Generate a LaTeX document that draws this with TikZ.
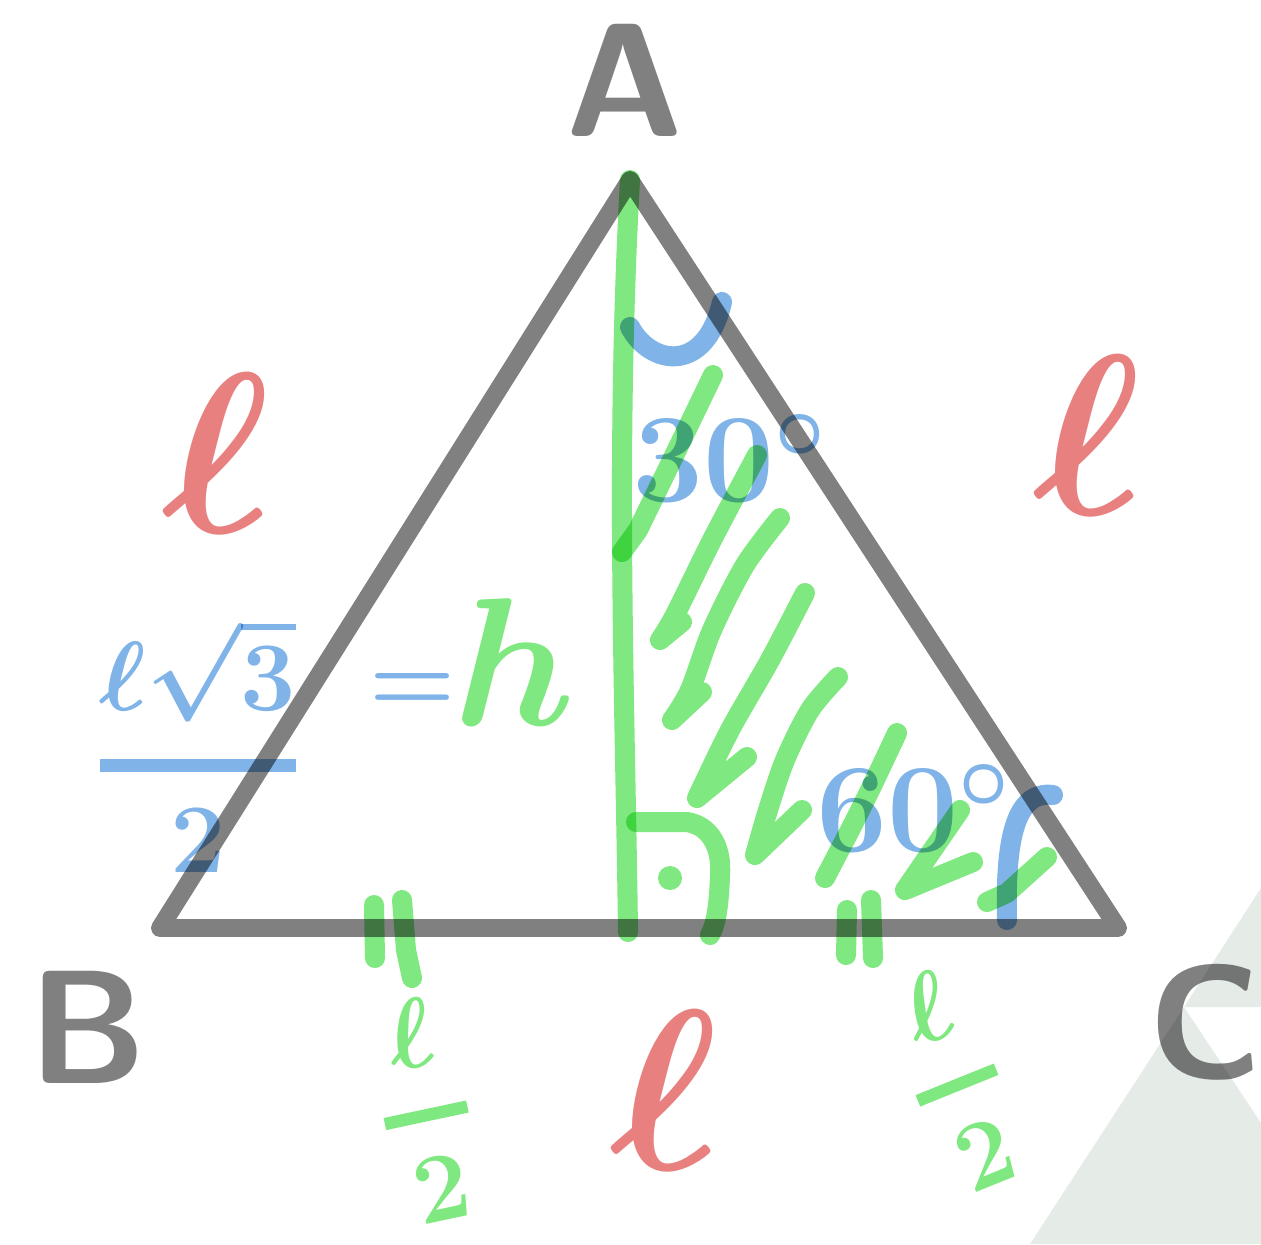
\documentclass[tikz,border=0pt]{standalone}
\usepackage{fix-cm}
\usepackage{amsmath}
\usepackage{xcolor}
\usepackage{tikz}
\definecolor{penGray}{RGB}{128,128,128}
\definecolor{penRed}{RGB}{232,128,128}
\definecolor{penGreen}{RGB}{128,232,128}
\definecolor{penBlue}{RGB}{128,180,232}
\definecolor{logoGray}{RGB}{229,235,231}
\tikzset{
  pen/.style={line width=5.7pt, line cap=round, line join=round},
  graypen/.style={pen, line width=5.1pt, draw=penGray},
  greenpen/.style={pen, draw=penGreen},
  bluepen/.style={pen, draw=penBlue},
  lbl/.style={inner sep=0pt, outer sep=0pt},
  vertexlbl/.style={lbl, text=penGray, font=\fontsize{46}{46}\selectfont\sffamily\bfseries},
  sidelbl/.style={lbl, text=penRed, font=\fontsize{65}{65}\selectfont\boldmath},
  halflbl/.style={lbl, text=penGreen, font=\fontsize{28}{28}\selectfont\boldmath},
  anglelbl/.style={lbl, text=penBlue, font=\fontsize{36}{36}\selectfont\boldmath}
}
\newcommand{\penfrac}[2]{\genfrac{}{}{3.5pt}{0}{#1}{#2}}
\begin{document}
\begin{tikzpicture}[x=0.01cm, y=-0.01cm]
\useasboundingbox (0,0) rectangle (1261,1244);
\fill[logoGray] (1030,1244) -- (1184,1007) -- (1261,1123) -- (1261,1244) -- cycle;
\fill[logoGray] (1184,1007) -- (1261,888) -- (1261,1007) -- cycle;
\begin{scope}[blend mode=multiply]
\coordinate (A) at (630,180);
\coordinate (B) at (160,928);
\coordinate (C) at (1118,928);
\coordinate (H) at (628,932);
\draw[graypen] (A) -- (C) -- (B) -- cycle;
\node[vertexlbl] (nA) at (625,80) {A};
\node[vertexlbl] (nB) at (88,1027) {B};
\node[vertexlbl] (nC) at (1205,1022) {C};
\node[sidelbl] (sAB) at (217,453) {$\ell$};
\node[sidelbl] (sAC) at (1088,435) {$\ell$};
\node[sidelbl] (sBC) at (665,1090) {$\ell$};
\draw[greenpen] (A) .. controls (615,450) and (625,700) .. (H);
\draw[greenpen] (636,822) -- (687,822) .. controls (712,826) and (722,850) .. (720,875) .. controls (719,905) and (716,925) .. (710,935);
\fill[penGreen] (670,878) circle[radius=12];
\draw[greenpen] (374,905) -- (375,958);
\draw[greenpen] (402,900) -- (406,950) -- (412,978);
\draw[greenpen] (847,910) -- (846,955);
\draw[greenpen] (871,900) -- (873,958);
\draw[greenpen] (713,375) -- (672,460) -- (638,530) -- (622,552);
\draw[greenpen] plot[smooth] coordinates {(757,455) (712,540) (675,615) (660,640)} -- (682,622);
\draw[greenpen] plot[smooth] coordinates {(780,518) (745,565) (712,630) (690,690) (672,720)} -- (702,692);
\draw[greenpen] plot[smooth] coordinates {(805,593) (770,660) (730,730) (697,798)} -- (747,757);
\draw[greenpen] plot[smooth] coordinates {(838,677) (810,710) (785,760) (768,810) (755,855)} -- (802,810);
\draw[greenpen] plot[smooth] coordinates {(897,733) (870,790) (850,830) (825,878)};
\draw[greenpen] (960,810) -- (905,890) -- (973,862);
\draw[greenpen] (1047,857) -- (1007,893) -- (987,902);
\draw[bluepen] (630,327) .. controls (650,365) and (705,375) .. (722,302);
\draw[bluepen] (1053,795) .. controls (1015,790) and (1005,840) .. (1007,920);
\node[anglelbl] (a30) at (730,458) {$30^{\circ}$};
\node[anglelbl] (a60) at (914,808) {$60^{\circ}$};
\node[lbl, text=penBlue, font=\fontsize{28}{28}\selectfont\boldmath] (hfrac) at (198,745) {$\penfrac{\ell\sqrt{3}}{2}$};
\node[lbl, text=penBlue, font=\fontsize{28}{28}\selectfont\boldmath] (eq) at (413,692) {$=$};
\node[lbl, text=penGreen, font=\fontsize{52}{52}\selectfont\boldmath] (hh) at (515,662) {$h$};
\node[halflbl, rotate=12] (halfL) at (425,1110) {$\penfrac{\,\ell\,}{2}$};
\node[halflbl, rotate=22] (halfR) at (955,1080) {$\penfrac{\,\ell\,}{2}$};
\end{scope}
\end{tikzpicture}
\end{document}
